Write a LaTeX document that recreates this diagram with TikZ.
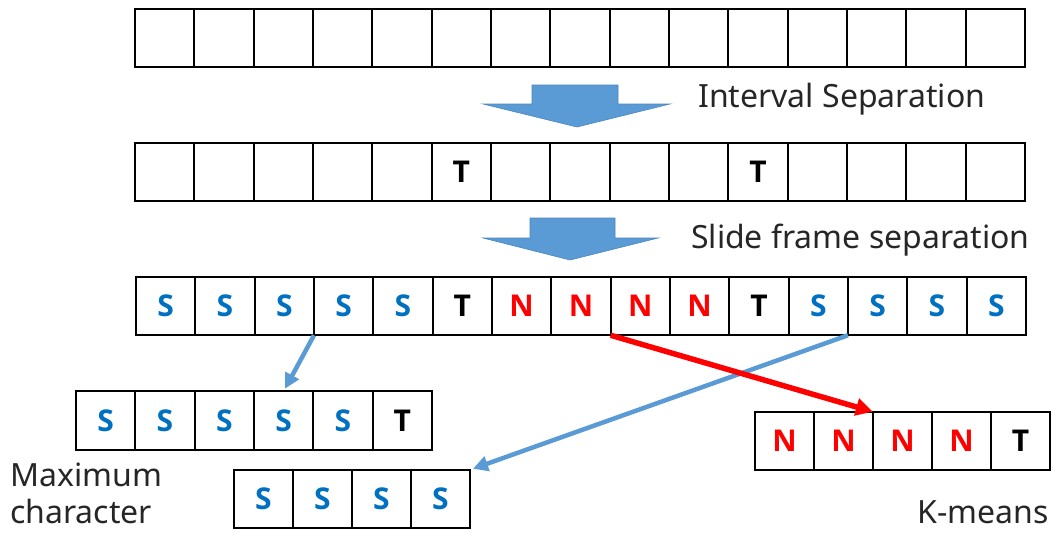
\documentclass[tikz,border=0pt]{standalone}
\usepackage{fontspec}
\setmainfont{Noto Sans}
\newfontfamily\cellfont{Open Sans}
\usetikzlibrary{arrows.meta}
\definecolor{sblue}{HTML}{0070C0}
\definecolor{nred}{HTML}{FF0000}
\definecolor{arrowblue}{HTML}{5B9BD5}
\definecolor{arrowedge}{HTML}{4A86C0}
\definecolor{labelgray}{HTML}{262626}

% cell letters by code (E = empty cell)
\def\cellS{S}
\def\cellN{N}
\def\cellT{T}
\def\cellE{}
\newcommand{\celltext}[1]{\csname cell#1\endcsname}

\begin{document}
\begin{tikzpicture}[x=1pt,y=-1pt,
  cell/.style={draw=black, line width=2pt, minimum width=59.33pt, minimum height=58.5pt,
    inner sep=0pt, outer sep=0pt, font=\cellfont\fontsize{30}{32}\selectfont\bfseries},
  lS/.style={text=sblue},
  lN/.style={text=nred},
  lT/.style={text=black},
  lE/.style={},
  blockarrow/.style={fill=arrowblue, draw=arrowedge, line width=0.6pt, line join=miter},
  lbl/.style={text=labelgray, font=\fontsize{32}{37}\selectfont, inner sep=0pt},
  blueconn/.style={draw=arrowblue, line width=4.5pt, -{Triangle[length=15pt,width=15pt]}},
  redconn/.style={draw=nred, line width=5.5pt, -{Triangle[length=17pt,width=17pt]}}
]
\useasboundingbox (0,0) rectangle (1052,533);

% top row: fifteen empty cells
\foreach \t [count=\i] in {E,E,E,E,E,E,E,E,E,E,E,E,E,E,E}
  \node[cell,l\t] (r1c\i) at ({135+59.33*(\i-0.5)},38) {\celltext{\t}};

% second row: interval boundaries marked T
\foreach \t [count=\i] in {E,E,E,E,E,T,E,E,E,E,T,E,E,E,E}
  \node[cell,l\t] (r2c\i) at ({135+59.33*(\i-0.5)},172) {\celltext{\t}};

% third row: slide frames
\foreach \t [count=\i] in {S,S,S,S,S,T,N,N,N,N,T,S,S,S,S}
  \node[cell,l\t] (r3c\i) at ({136+59.33*(\i-0.5)},306) {\celltext{\t}};

% split-out groups
\foreach \t [count=\i] in {S,S,S,S,S,T}
  \node[cell,l\t] (a\i) at ({76+59.33*(\i-0.5)},420.5) {\celltext{\t}};
\foreach \t [count=\i] in {S,S,S,S}
  \node[cell,l\t] (b\i) at ({234+59*(\i-0.5)},499) {\celltext{\t}};
\foreach \t [count=\i] in {N,N,N,N,T}
  \node[cell,l\t] (c\i) at ({755+59*(\i-0.5)},441) {\celltext{\t}};

% block arrows between rows
\path[blockarrow] (532,85) -- (618,85) -- (618,104) -- (670,104) -- (577,127)
  -- (483,104) -- (532,104) -- cycle;
\path[blockarrow] (530,218) -- (615,218) -- (615,238) -- (658,238) -- (570,260)
  -- (483,238) -- (530,238) -- cycle;

% step labels
\node[lbl, anchor=west] (sep1) at (698,99) {Interval Separation};
\node[lbl, anchor=west] (sep2) at (691,240) {Slide frame separation};
\node[lbl, anchor=east] (km) at (1049,512) {K-means};
\node[lbl, anchor=north west, align=left] (maxc) at (10,463) {Maximum\\character};

% connectors from the frame row to the groups
\draw[blueconn, shorten >=3pt] (r3c4.south west) -- (a4.north);
\draw[blueconn, shorten >=3pt] (r3c13.south west) -- (b4.north east);
\draw[redconn] (r3c9.south west) -- (c3.north west);
\end{tikzpicture}
\end{document}
